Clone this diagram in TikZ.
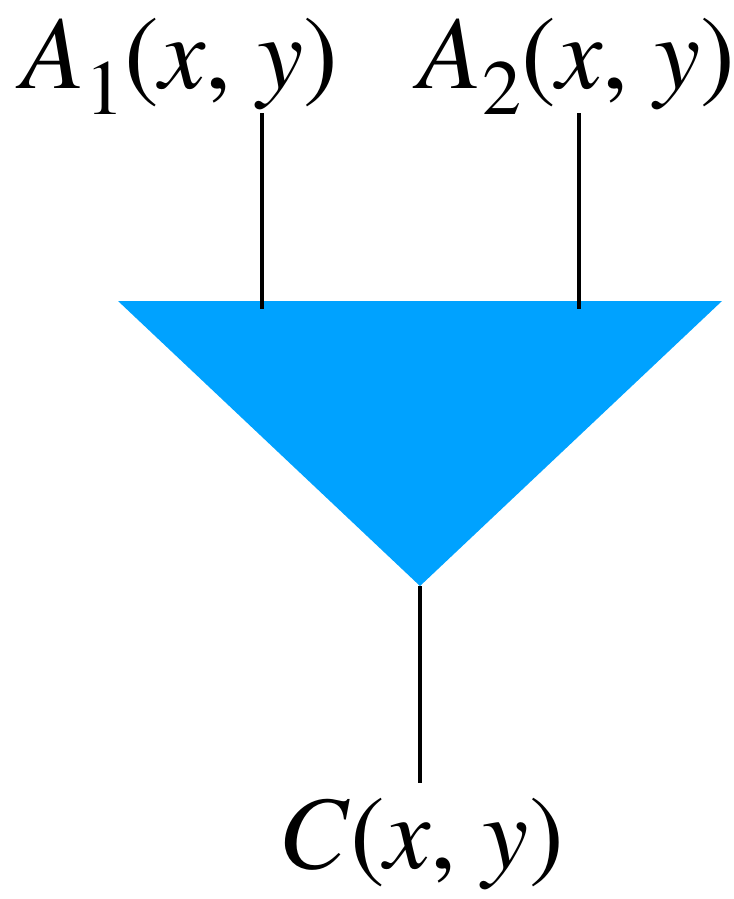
\documentclass[tikz,border=0pt]{standalone}
\usepackage[T1]{fontenc}
\usepackage{mathptmx}
\usepackage{tikz}
\usepackage{xcolor}

\definecolor{gateblue}{RGB}{0,162,255}
\newcommand{\idx}[1]{\lower6.7pt\hbox{\fontsize{19.5}{20}\selectfont #1}}
\newcommand{\fnarg}{(\textit{x}, \textit{y})}

\tikzset{
  wire/.style={line width=1.1pt, black},
  lbl/.style={anchor=base, inner sep=0.75pt, font=\fontsize{26}{30}\selectfont}
}

\begin{document}
\begin{tikzpicture}[x=0.25pt,y=0.25pt,yscale=-1,xscale=1]
			%set diagram bounds to the reference size
			\useasboundingbox (0,0) rectangle (733,899);
			
			%Shape: Triangle [id:gate]
			\coordinate (tl) at (118,301);
			\coordinate (tr) at (722,301);
			\coordinate (tip) at (420,586);
			\fill [gateblue] (tl) -- (tr) -- (tip) -- cycle ;
			
			% Text Node
			\node (a1) [lbl] at (180,88) {\textit{A}\idx{1}\fnarg};
			% Text Node
			\node (a2) [lbl] at (577,88) {\textit{A}\idx{2}\fnarg};
			% Text Node
			\node (c) [lbl] at (421,868) {\textit{C}\fnarg};
			
			\coordinate (a1end) at (262,113);
			\coordinate (a1in) at (262,309);
			\coordinate (a2end) at (579,113);
			\coordinate (a2in) at (579,309);
			\coordinate (cend) at (420,783);
			
			%Straight Lines [id:in1]
			\draw [wire] (a1end) -- (a1in) ;
			%Straight Lines [id:in2]
			\draw [wire] (a2end) -- (a2in) ;
			%Straight Lines [id:out]
			\draw [wire] (tip) -- (cend) ;
\end{tikzpicture}
\end{document}
